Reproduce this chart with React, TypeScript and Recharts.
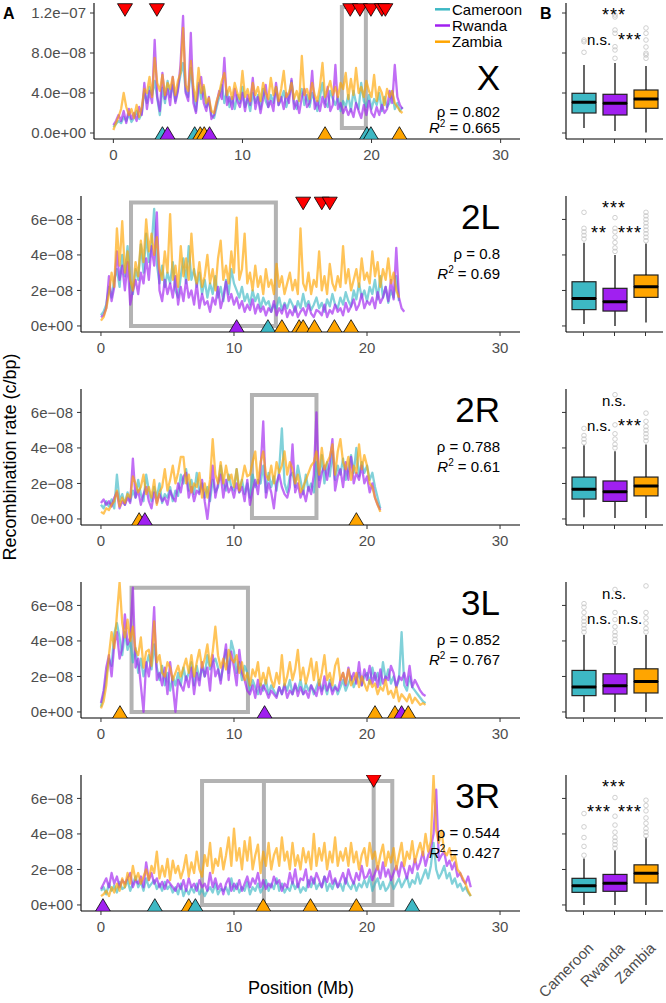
import React from "react";
import { ComposedChart, Line, XAxis, YAxis, Scatter, ReferenceArea, Bar } from "recharts";

const FONT = "'Liberation Sans', Arial, Helvetica, sans-serif";
const POPS = ["Cameroon", "Rwanda", "Zambia"];
const POP_COLORS = ["#3DB8C4", "#A020F0", "#FFA500"];
const STEP = 0.2; // Mb between windows
const UNIT = 1e-8;
const X_TICKS = [0, 10, 20, 30];

// ---------- X ----------
const X_CAM = [0.6,0.9,1.2,1.0,1.6,1.2,1.9,1.1,1.5,2.2,1.4,2.0,4.2,3.0,4.6,3.8,5.2,3.5,1.8,4.5,3.0,5.2,3.6,4.8,3.2,4.4,5.8,7.0,4.2,3.6,6.5,4.0,2.2,5.0,3.4,4.6,2.6,3.2,1.8,1.5,2.6,3.6,4.8,3.0,4.2,2.6,3.6,2.4,3.8,3.0,4.6,2.6,3.4,2.2,4.0,3.0,3.8,2.4,4.4,3.2,2.6,3.8,3.0,4.6,2.8,3.4,4.2,2.6,3.6,5.2,3.0,2.4,3.6,4.4,2.8,3.8,2.6,4.0,3.2,2.2,3.6,5.0,3.0,2.6,4.2,3.4,2.8,3.6,2.2,3.2,2.6,3.8,2.2,4.2,3.0,2.4,5.0,3.2,2.6,3.8,2.4,3.4,2.8,4.0,2.2,3.6,2.6,3.0,4.2,2.4,3.0,2.2,2.6];
const X_RWA = [0.8,1.2,1.8,1.2,2.2,1.0,2.4,1.4,2.0,1.2,2.6,1.8,5.0,2.4,4.2,3.0,9.3,3.6,2.2,6.0,3.4,4.4,2.8,5.6,3.0,4.2,6.8,11.7,4.0,3.2,10.0,3.0,2.0,4.6,5.6,3.0,2.2,3.6,1.4,1.8,3.0,4.2,3.4,7.5,2.8,3.6,2.4,4.4,3.2,2.6,4.0,2.2,3.8,2.8,5.5,2.4,3.6,2.0,3.4,4.8,2.6,3.2,2.2,5.0,2.8,3.6,2.4,4.0,3.0,5.4,2.4,3.2,2.0,3.6,4.4,2.6,3.0,6.2,2.4,3.2,2.2,3.6,2.6,4.6,2.2,2.8,6.8,2.4,3.0,2.0,2.6,1.8,2.4,1.6,3.0,2.2,1.5,2.8,1.8,3.2,2.0,1.6,2.6,1.8,2.8,2.0,2.4,4.2,3.0,6.8,3.6,2.8,2.4];
const X_ZAM = [0.3,1.0,1.6,2.4,4.0,2.6,1.8,2.4,1.5,2.8,1.6,2.6,4.4,4.0,5.6,3.6,7.5,5.0,4.2,5.8,3.8,5.0,4.4,5.6,3.8,5.2,6.0,10.5,4.8,4.2,7.2,4.6,3.2,6.5,4.0,4.8,3.0,3.5,2.2,2.0,3.2,4.0,5.2,6.0,3.8,4.6,3.4,5.0,4.0,3.4,6.2,3.6,4.4,3.2,5.0,3.8,4.6,3.2,5.0,4.0,3.4,5.5,3.8,4.6,3.2,4.4,6.2,3.6,4.0,5.0,3.4,4.2,3.2,7.7,3.8,4.4,3.4,5.0,3.8,3.2,4.6,7.0,3.6,4.4,5.2,3.8,4.6,3.6,5.0,4.4,6.0,3.4,5.4,3.8,6.5,4.0,4.6,3.6,5.2,4.2,3.6,5.8,3.2,4.6,4.0,2.8,4.4,3.6,4.2,3.0,2.6,2.2,2.0];
const X_Y_TICKS = [0, 4e-8, 8e-8, 1.2e-7];
const X_Y_LABELS = ["0.0e+00", "4.0e\u221208", "8.0e\u221208", "1.2e\u221207"];
const X_Y_DOMAIN = [-0.6e-8, 13.0e-8];
const X_INV = [[17.7, 19.56, 0.5, 12.6]];
const X_UP_CAM = [3.8, 6.3, 19.64, 19.95];
const X_UP_RWA = [4.2, 7.45];
const X_UP_ZAM = [6.73, 7.04, 16.4, 22.16];
const X_DOWN = [0.9, 3.37, 18.35, 19.1, 19.95, 20.8, 21.07];
const X_BOX = [[0.5, 2.0, 3.07, 3.97, 6.8], [0.2, 1.8, 2.97, 3.87, 7.0], [0.05, 2.47, 3.4, 4.3, 6.7]];
const X_OUT = [[8.07, 9.13, 9.3], [7.47, 8.3, 8.63, 9.97, 10.3, 11.6, 11.8], [7.47, 7.8, 7.97, 8.6, 9.3, 9.97, 10.5]];

// ---------- 2L ----------
const L2_CAM = [0.6,0.8,1.2,2.2,1.6,2.6,3.2,2.2,4.0,2.8,4.5,2.4,1.8,3.2,2.6,4.6,3.0,5.2,3.6,4.4,6.6,3.5,2.4,3.4,2.2,3.0,2.4,3.6,2.0,1.6,2.8,3.8,2.4,4.5,2.6,3.2,2.2,3.0,1.8,2.6,1.6,2.4,1.8,2.8,1.6,2.2,1.4,2.6,1.8,3.2,2.4,2.0,1.6,2.2,1.4,1.8,1.2,2.0,1.4,1.8,1.0,1.6,1.2,1.4,0.8,1.2,1.0,1.6,0.9,1.3,1.0,1.5,1.2,0.8,1.4,1.0,1.8,1.1,1.4,0.9,1.2,1.6,1.0,1.3,0.8,1.5,1.1,1.8,1.2,1.0,1.6,1.2,1.9,1.4,1.1,2.0,1.5,2.4,1.6,2.0,1.4,2.2,1.8,2.6,1.5,2.8,1.6,2.2,1.3,2.0,1.6,2.8,1.4];
const L2_RWA = [0.5,0.6,1.0,2.8,1.4,2.2,4.2,2.6,3.4,2.0,3.6,1.2,2.0,2.6,1.8,3.0,2.4,3.8,2.6,4.5,3.4,6.4,2.0,1.4,2.6,1.8,2.4,1.6,2.8,1.2,2.2,1.4,2.6,1.6,2.0,1.2,2.4,1.0,1.8,1.2,1.4,0.8,1.6,1.2,2.2,1.0,1.6,2.5,1.4,1.8,1.2,1.6,1.0,1.4,0.8,1.2,0.9,1.5,0.7,1.2,0.8,1.1,0.6,1.0,0.8,1.4,0.6,1.0,0.7,1.2,0.5,0.9,0.6,1.1,0.5,0.8,1.0,0.6,1.2,0.7,0.5,0.9,0.8,0.6,1.2,0.5,0.9,0.7,1.2,0.8,1.0,0.6,1.3,0.8,1.1,1.5,0.9,1.2,1.8,1.0,1.4,1.2,1.6,1.0,1.9,1.3,1.6,2.2,1.4,2.6,1.5,4.4,1.6,1.0,0.8];
const L2_ZAM = [0.3,0.5,1.0,1.8,3.0,2.2,5.5,3.4,5.9,3.0,4.2,2.6,2.0,3.6,2.8,4.8,3.6,6.0,4.2,5.2,4.0,5.0,3.2,2.6,4.2,3.0,6.3,2.6,3.4,2.2,4.5,2.8,3.8,2.6,5.2,3.0,2.4,3.6,2.2,2.8,4.0,2.4,3.2,2.0,3.8,4.8,2.6,3.4,2.4,4.2,3.0,6.1,2.6,3.2,5.2,2.4,3.0,2.0,3.4,2.2,2.8,1.8,3.2,2.2,2.6,1.8,3.5,2.2,2.8,1.8,2.4,3.0,2.0,2.6,1.8,5.5,2.4,2.0,3.0,1.8,2.6,2.2,4.2,2.0,2.8,1.8,3.5,2.4,2.0,2.8,2.2,4.5,2.4,3.2,2.0,2.6,3.2,2.2,3.8,2.6,3.0,2.4,4.2,2.8,3.6,2.2,3.2,2.6,3.8,2.4,3.0,2.0,1.6];
const A_Y_TICKS = [0, 2e-8, 4e-8, 6e-8];
const A_Y_LABELS = ["0e+00", "2e\u221208", "4e\u221208", "6e\u221208"];
const A_Y_DOMAIN = [-0.34e-8, 7.32e-8];
const L2_INV = [[2.26, 13.15, 0, 6.95]];
const L2_UP_CAM = [12.55];
const L2_UP_RWA = [10.2];
const L2_UP_ZAM = [13.6, 14.9, 15.2, 16.05, 17.55, 18.8];
const L2_DOWN = [15.2, 16.6, 17.2];
const L2_BOX = [[0.11, 0.92, 1.55, 2.49, 4.68], [0.0, 0.84, 1.37, 2.12, 3.99], [0.19, 1.61, 2.21, 2.87, 4.64]];
const L2_OUT = [[4.9, 5.1, 5.3, 5.5, 6.4], [4.2, 4.4, 4.7, 5.0, 5.3, 5.5, 6.1], [4.8, 5.0, 5.2, 5.4, 5.6, 5.8, 6.0, 6.2, 6.4]];

// ---------- 2R ----------
const R2_CAM = [0.8,0.6,1.0,0.7,1.1,0.6,2.5,1.0,1.4,0.8,1.5,1.0,1.6,1.2,2.2,1.4,1.0,2.5,1.6,1.0,1.8,1.2,2.0,0.9,1.4,1.2,1.8,1.0,1.6,1.3,2.5,2.0,2.8,1.6,2.2,1.4,2.6,1.5,2.0,1.2,1.8,1.0,2.2,1.5,1.8,3.0,2.0,1.6,2.5,1.8,1.6,2.8,1.5,2.2,1.4,2.0,1.2,2.5,1.8,2.2,2.0,3.0,1.5,2.6,1.8,2.4,1.6,2.8,5.1,2.0,1.5,2.4,2.6,1.8,3.0,2.2,1.4,2.5,1.6,2.0,1.5,3.2,2.2,3.6,2.0,3.2,2.4,3.8,2.2,3.0,2.5,3.4,2.2,2.8,3.6,2.6,4.0,2.4,3.2,2.6,3.0,2.2,2.6,1.8,1.2,0.6];
const R2_RWA = [0.9,1.1,0.8,1.0,0.7,1.2,1.5,0.6,1.0,0.8,1.2,0.9,3.4,1.2,1.6,0.8,1.4,1.8,1.0,0.6,1.5,0.9,1.4,1.0,1.2,0.8,1.6,1.2,1.0,2.0,1.5,2.4,2.6,1.2,1.8,1.0,1.6,1.4,2.2,1.0,0.0,1.4,3.0,1.2,2.0,2.5,1.2,2.2,1.5,1.8,1.2,2.0,1.5,1.8,1.0,2.2,0.8,1.6,2.2,1.4,2.8,5.5,1.2,2.0,1.5,0.6,2.0,2.5,1.8,1.4,1.2,1.8,4.2,1.5,2.0,1.2,1.6,1.0,1.8,1.4,2.5,6.0,1.8,2.6,3.0,2.2,3.2,4.5,1.6,2.4,2.8,1.8,3.2,2.2,3.5,2.0,2.6,2.2,3.0,2.0,2.4,1.5,2.0,1.2,0.8,0.5];
const R2_ZAM = [0.4,0.3,0.6,0.5,0.8,1.0,1.6,0.7,1.2,0.9,1.4,1.2,2.4,2.0,1.5,1.8,2.5,1.4,1.8,1.2,2.2,0.8,1.5,1.8,2.8,1.6,2.2,3.0,2.0,2.6,3.5,3.5,2.0,2.5,1.5,2.0,1.8,2.6,1.2,2.0,1.2,2.2,4.5,2.5,2.0,3.2,2.0,3.0,2.2,2.5,1.8,2.8,1.6,2.2,3.0,2.4,2.5,3.2,3.8,2.0,3.2,3.8,2.5,2.2,3.0,2.0,3.2,2.6,3.0,3.8,2.5,3.2,2.8,2.0,2.5,1.5,1.8,2.2,2.6,3.0,3.2,3.8,2.5,4.0,2.8,3.2,3.5,4.2,2.5,3.8,4.5,3.2,2.8,3.5,2.2,3.0,2.6,4.2,2.8,3.6,3.0,2.0,1.8,1.2,0.8,0.4];
const R2_INV = [[11.35, 16.2, 0.05, 6.98]];
const R2_UP_CAM: number[] = [];
const R2_UP_RWA = [3.3];
const R2_UP_ZAM = [2.87, 19.2];
const R2_DOWN: number[] = [];
const R2_BOX = [[0.1, 1.12, 1.68, 2.36, 4.15], [0.05, 0.99, 1.53, 2.14, 3.82], [0.05, 1.3, 1.86, 2.36, 4.19]];
const R2_OUT = [[4.3, 4.5, 4.7, 5.1], [4.0, 4.2, 4.5, 4.8, 5.3, 7.0], [4.4, 4.6, 4.8, 5.0, 5.2, 5.5, 5.96]];

// ---------- 3L ----------
const L3_CAM = [0.3,1.0,2.0,3.0,2.6,4.4,5.0,4.2,3.2,4.5,3.5,4.0,2.8,3.6,2.2,3.0,2.0,2.6,3.2,2.4,3.8,2.5,1.8,2.6,1.5,2.2,1.2,2.0,1.5,2.2,1.5,2.5,1.8,2.2,2.8,1.5,2.6,1.8,2.5,2.0,3.2,2.4,2.8,3.0,2.5,1.8,2.6,3.5,2.2,4.0,3.4,2.2,2.8,1.8,2.6,2.2,1.2,1.8,1.4,1.0,1.6,1.2,1.8,1.0,1.5,1.2,0.9,1.4,1.0,1.6,1.2,1.8,1.0,1.5,1.2,1.8,1.0,1.6,1.2,1.5,1.0,1.4,1.8,1.2,1.5,1.0,1.8,1.2,1.5,1.0,1.4,1.8,1.2,1.6,2.0,1.4,1.8,2.2,1.5,2.0,2.2,1.6,2.5,1.8,2.2,1.5,2.8,1.8,2.4,1.6,2.0,1.4,1.8,4.5,1.5,1.2,2.0,1.4,1.2,1.0,0.8,0.6,0.5];
const L3_RWA = [0.5,1.2,2.5,3.2,2.0,3.8,4.5,3.0,3.6,5.5,3.8,4.2,7.0,2.5,3.0,1.5,0.0,2.8,2.0,3.2,5.9,1.8,2.2,1.5,2.5,1.0,2.8,1.5,0.0,1.8,1.5,1.2,2.0,1.4,2.5,1.0,2.2,1.5,2.8,2.0,2.5,1.2,3.2,2.0,2.4,1.6,2.8,3.8,1.8,3.4,2.5,1.5,3.5,2.2,1.8,1.2,1.0,1.5,0.8,1.8,1.0,1.5,1.2,0.8,1.2,1.0,0.8,1.4,1.0,1.5,0.8,1.2,1.0,1.6,0.9,1.4,1.0,1.2,0.8,1.5,1.2,0.9,1.6,1.0,2.0,1.2,1.6,1.0,1.4,1.2,1.8,2.2,1.5,2.5,1.8,2.2,1.6,2.8,1.5,2.4,1.8,2.6,1.6,2.2,1.4,2.4,1.6,2.0,1.8,2.6,2.2,1.4,2.0,1.8,2.2,1.5,2.6,1.4,1.8,1.5,1.2,1.0,0.9];
const L3_ZAM = [0.2,0.6,1.5,3.2,4.5,3.6,5.5,7.3,5.0,4.2,5.2,4.0,4.8,3.5,3.2,4.2,2.5,3.4,3.5,2.6,5.1,2.8,3.2,2.2,2.0,2.8,2.5,1.8,2.2,2.6,2.0,2.5,3.0,2.2,3.2,2.0,2.8,3.5,2.5,3.0,3.8,2.6,3.4,4.8,3.2,2.5,3.0,2.4,3.5,3.0,2.8,3.2,2.2,2.8,1.8,2.2,1.5,2.4,2.0,2.8,1.5,2.2,1.6,2.5,1.8,1.4,2.2,1.6,3.2,1.5,2.0,2.8,1.8,2.4,3.5,1.8,2.5,1.6,2.2,3.0,1.8,2.8,1.5,2.2,3.2,1.8,2.2,1.5,2.6,3.0,1.8,2.2,1.6,2.4,1.5,1.8,2.2,1.4,2.0,1.6,1.2,1.8,1.4,1.6,1.0,1.4,1.2,1.8,1.0,1.2,0.8,1.4,0.6,1.0,0.8,0.6,1.0,0.5,0.8,0.6,0.4,0.5,0.4];
const L3_INV = [[2.3, 11.05, 0, 6.99]];
const L3_UP_CAM: number[] = [];
const L3_UP_RWA = [12.3, 22.6];
const L3_UP_ZAM = [1.43, 20.6, 22.1, 23.1];
const L3_DOWN: number[] = [];
const L3_BOX = [[0.0, 0.92, 1.41, 2.34, 4.34], [0.0, 1.01, 1.48, 2.15, 3.72], [0.0, 1.07, 1.71, 2.43, 4.34]];
const L3_OUT = [[4.5, 4.7, 4.9, 5.1, 5.3, 5.6, 5.9, 6.1], [3.9, 4.1, 4.3, 4.5, 4.8, 5.2, 5.6, 6.9], [4.5, 4.7, 5.0, 5.3, 5.6, 7.1]];

// ---------- 3R ----------
const R3_CAM = [0.8,1.0,0.6,1.2,0.8,1.1,0.7,1.3,0.9,1.0,1.4,0.8,1.2,1.6,1.0,1.3,0.8,1.5,1.0,1.2,1.4,0.9,1.2,0.8,1.3,0.9,1.1,0.7,1.0,0.6,1.2,0.5,0.9,0.6,1.0,0.7,1.2,0.6,0.9,0.5,0.8,1.0,0.7,1.2,0.6,0.9,0.8,1.0,0.6,1.5,0.8,1.2,0.7,1.0,0.8,1.3,0.6,1.0,0.8,1.2,0.7,1.0,1.4,0.8,1.2,0.9,1.5,0.8,1.2,0.7,1.0,0.8,1.3,0.9,1.2,0.7,1.0,0.8,1.4,1.0,1.5,0.9,1.2,1.0,1.6,0.8,1.2,0.9,1.4,1.0,1.2,0.8,1.5,1.1,0.9,1.3,0.8,1.2,1.0,1.4,1.0,1.6,0.8,1.2,1.5,0.9,1.3,0.8,1.0,1.4,0.9,1.2,1.5,1.0,1.3,1.6,1.0,1.4,1.2,1.8,1.2,1.6,2.0,1.5,2.2,3.5,2.0,1.5,1.8,2.2,1.5,1.8,1.2,1.5,1.0,1.2,0.8,1.0,0.7,0.5];
const R3_RWA = [0.9,1.2,1.5,1.0,1.8,1.2,1.6,1.0,1.4,1.2,1.5,1.8,1.0,1.4,1.2,1.6,1.0,2.4,1.4,1.8,1.2,1.5,1.0,1.3,0.9,1.4,1.2,1.0,0.8,1.2,0.9,1.4,0.8,1.5,1.0,1.2,0.8,1.4,1.0,1.2,0.8,1.8,1.0,1.5,0.9,1.2,0.6,1.2,1.5,0.8,1.2,0.9,1.4,0.8,1.2,1.6,1.0,1.5,1.2,1.8,1.0,1.4,0.9,1.2,1.0,1.6,1.2,1.4,0.8,1.2,1.0,1.8,1.2,2.0,1.0,1.5,1.4,2.0,1.0,1.6,1.2,1.8,1.4,1.0,1.6,1.3,1.9,1.2,1.5,1.0,1.4,1.8,1.2,2.0,1.5,1.2,1.8,1.4,2.2,1.5,1.6,2.0,1.4,1.8,2.2,1.5,2.4,1.6,2.0,1.4,1.8,2.2,1.6,2.4,2.0,1.5,2.2,1.8,2.6,2.0,2.4,3.0,2.2,2.8,3.2,4.0,6.5,2.5,2.8,3.0,2.2,2.5,2.0,2.4,1.6,1.8,1.4,1.2,1.6,1.0];
const R3_ZAM = [0.5,0.6,0.8,0.5,1.0,0.7,1.2,0.8,1.5,1.0,1.8,1.2,2.2,1.4,1.8,1.2,1.6,2.0,1.4,2.2,1.8,3.0,1.5,2.2,1.6,2.6,1.4,2.5,1.8,2.2,1.5,2.0,2.8,1.6,2.4,1.8,3.0,2.0,1.6,2.8,2.2,3.5,1.8,2.6,2.2,3.2,2.0,2.8,3.8,2.2,4.3,2.5,3.2,2.0,3.6,2.5,3.8,2.0,2.8,3.4,1.8,3.0,2.2,3.5,2.0,2.8,3.2,2.2,3.8,2.5,3.0,2.0,3.5,2.2,2.8,2.0,3.2,2.4,3.0,2.0,4.0,2.2,3.2,2.5,3.5,2.0,3.0,2.4,3.8,2.2,3.0,2.5,3.2,2.2,3.5,2.4,3.0,2.0,2.8,3.2,2.2,3.5,2.6,3.0,2.0,2.8,3.4,2.2,3.0,2.4,3.2,2.0,2.8,3.5,2.2,3.0,2.6,3.6,2.4,3.0,3.5,2.8,4.0,3.0,3.6,7.3,4.2,3.5,4.2,3.0,2.8,3.2,2.5,2.8,2.0,1.8,1.5,1.2,0.8,0.5];
const R3_INV = [[7.6, 20.5, 0, 6.98], [12.25, 21.9, 0, 6.98]];
const R3_UP_CAM = [4.05, 7.1, 23.4];
const R3_UP_RWA = [0.15];
const R3_UP_ZAM = [6.6, 12.2, 15.75, 19.2];
const R3_DOWN = [20.5];
const R3_BOX = [[0.0, 0.71, 1.08, 1.5, 2.62], [0.0, 0.77, 1.22, 1.72, 3.09], [0.0, 1.24, 1.78, 2.26, 3.8]];
const R3_OUT = [[2.8, 3.3, 3.8, 4.4, 5.15], [3.2, 3.4, 3.6, 3.8, 4.1, 4.5, 5.0, 6.05], [3.9, 4.1, 4.3, 4.6, 4.9, 5.3, 5.6, 5.9]];

const CHROM_NAMES = ["X", "2L", "2R", "3L", "3R"];
const RHO = ["0.802", "0.8", "0.788", "0.852", "0.544"];
const R2 = ["0.665", "0.69", "0.61", "0.767", "0.427"];
const DOWN_Y = [12.3, 6.9, 6.9, 6.9, 6.98];
const SIG_TOP = ["***", "***", "n.s.", "n.s.", "***"];
const SIG_LEFT = ["n.s.", "**", "n.s.", "n.s.", "***"];
const SIG_RIGHT = ["***", "***", "***", "n.s.", "***"];

const CHROMS = [
  { cam: X_CAM, rwa: X_RWA, zam: X_ZAM, yTicks: X_Y_TICKS, yLabels: X_Y_LABELS, yDomain: X_Y_DOMAIN, inv: X_INV, up: [X_UP_CAM, X_UP_RWA, X_UP_ZAM], down: X_DOWN, box: X_BOX, out: X_OUT },
  { cam: L2_CAM, rwa: L2_RWA, zam: L2_ZAM, yTicks: A_Y_TICKS, yLabels: A_Y_LABELS, yDomain: A_Y_DOMAIN, inv: L2_INV, up: [L2_UP_CAM, L2_UP_RWA, L2_UP_ZAM], down: L2_DOWN, box: L2_BOX, out: L2_OUT },
  { cam: R2_CAM, rwa: R2_RWA, zam: R2_ZAM, yTicks: A_Y_TICKS, yLabels: A_Y_LABELS, yDomain: A_Y_DOMAIN, inv: R2_INV, up: [R2_UP_CAM, R2_UP_RWA, R2_UP_ZAM], down: R2_DOWN, box: R2_BOX, out: R2_OUT },
  { cam: L3_CAM, rwa: L3_RWA, zam: L3_ZAM, yTicks: A_Y_TICKS, yLabels: A_Y_LABELS, yDomain: A_Y_DOMAIN, inv: L3_INV, up: [L3_UP_CAM, L3_UP_RWA, L3_UP_ZAM], down: L3_DOWN, box: L3_BOX, out: L3_OUT },
  { cam: R3_CAM, rwa: R3_RWA, zam: R3_ZAM, yTicks: A_Y_TICKS, yLabels: A_Y_LABELS, yDomain: A_Y_DOMAIN, inv: R3_INV, up: [R3_UP_CAM, R3_UP_RWA, R3_UP_ZAM], down: R3_DOWN, box: R3_BOX, out: R3_OUT },
];

// layout
const PANEL_TOPS = [3, 196, 389, 582, 775];
const PLOT_H = 136;

function buildRows(c: number[], r: number[], z: number[]) {
  const n = Math.max(c.length, r.length, z.length);
  const rows: any[] = [];
  for (let i = 0; i < n; i++) {
    rows.push({
      pos: Math.round(i * STEP * 10) / 10,
      Cameroon: c[i] != null ? c[i] * UNIT : null,
      Rwanda: r[i] != null ? r[i] * UNIT : null,
      Zambia: z[i] != null ? z[i] * UNIT : null,
    });
  }
  return rows;
}

const UpTri = (p: any) => {
  const { cx, cy, payload } = p;
  const col = POP_COLORS[payload.pop];
  return (
    <polygon
      points={`${cx - 7.5},${cy + 6.3} ${cx + 7.5},${cy + 6.3} ${cx},${cy - 6.3}`}
      fill={col}
      stroke="#000"
      strokeWidth={0.8}
    />
  );
};

const DownTri = (p: any) => {
  const { cx, cy } = p;
  return (
    <polygon
      points={`${cx - 7.5},${cy - 6.3} ${cx + 7.5},${cy - 6.3} ${cx},${cy + 6.3}`}
      fill="#FF0000"
      stroke="#000"
      strokeWidth={0.8}
    />
  );
};

function LinePanel({ idx }: { idx: number }) {
  const c = CHROMS[idx];
  const rows = buildRows(c.cam, c.rwa, c.zam);
  const marks: any[] = [];
  c.up.forEach((arr, pi) => arr.forEach((pos) => marks.push({ pos, y: 0, pop: pi })));
  marks.sort((a, b) => a.pos - b.pos);
  const downs = c.down.map((pos) => ({ pos, y: DOWN_Y[idx] * UNIT }));
  const yw = idx === 0 ? 94 : 81;
  const fmt = (v: number) => {
    const k = c.yTicks.findIndex((t) => Math.abs(t - v) < 1e-12);
    return k >= 0 ? c.yLabels[k] : "";
  };
  return (
    <div style={{ position: "absolute", left: 0, top: PANEL_TOPS[idx] }}>
      <ComposedChart width={520} height={PLOT_H + 30} data={rows} margin={{ top: 0, right: 0, bottom: 0, left: 0 }}>
        <XAxis
          dataKey="pos"
          type="number"
          domain={[-1.5, 31.5]}
          ticks={X_TICKS}
          allowDataOverflow
          tickSize={4}
          tickMargin={6}
          height={30}
          axisLine={{ stroke: "#000", strokeWidth: 1.1 }}
          tickLine={{ stroke: "#333" }}
          tick={{ fill: "#4D4D4D", fontSize: 15, fontFamily: FONT }}
        />
        <YAxis
          type="number"
          domain={c.yDomain}
          ticks={c.yTicks}
          allowDataOverflow
          width={yw}
          tickSize={4}
          tickMargin={4}
          tickFormatter={fmt}
          axisLine={{ stroke: "#000", strokeWidth: 1.1 }}
          tickLine={{ stroke: "#333" }}
          tick={{ fill: "#4D4D4D", fontSize: 15, fontFamily: FONT }}
        />
        {c.inv.map((r, k) => (
          <ReferenceArea
            key={k}
            x1={r[0]}
            x2={r[1]}
            y1={r[2] * UNIT}
            y2={r[3] * UNIT}
            fill="none"
            fillOpacity={0}
            stroke="#B3B3B3"
            strokeWidth={4}
            ifOverflow="visible"
          />
        ))}
        {POPS.map((p, i) => (
          <Line
            key={p}
            dataKey={p}
            type="linear"
            stroke={POP_COLORS[i]}
            strokeOpacity={0.65}
            strokeWidth={2.3}
            strokeLinejoin="round"
            dot={false}
            activeDot={false}
            isAnimationActive={false}
          />
        ))}
        <Scatter data={marks} dataKey="y" shape={UpTri} isAnimationActive={false} />
        {downs.length > 0 && <Scatter data={downs} dataKey="y" shape={DownTri} isAnimationActive={false} />}
      </ComposedChart>
    </div>
  );
}

const EmptyShape = () => <g />;
const WhiskerLow = (p: any) => (
  <line x1={p.x + p.width / 2} x2={p.x + p.width / 2} y1={p.y} y2={p.y + p.height} stroke="#000" strokeWidth={1.2} />
);
const BoxLow = (p: any) => (
  <rect x={p.x} y={p.y} width={p.width} height={p.height} fill={p.payload.color} stroke="#222" strokeWidth={1.2} />
);
const BoxHigh = (p: any) => (
  <g>
    <rect x={p.x} y={p.y} width={p.width} height={p.height} fill={p.payload.color} stroke="#222" strokeWidth={1.2} />
    <line x1={p.x} x2={p.x + p.width} y1={p.y + p.height} y2={p.y + p.height} stroke="#000" strokeWidth={3} />
  </g>
);
const WhiskerHigh = (p: any) => {
  const pl = p.payload;
  const span = pl.max - pl.q3;
  const ppu = span > 0 ? p.height / span : 0;
  const cx = p.x + p.width / 2;
  return (
    <g>
      <line x1={cx} x2={cx} y1={p.y} y2={p.y + p.height} stroke="#000" strokeWidth={1.2} />
      {pl.outliers.map((o: number, k: number) => (
        <circle key={k} cx={cx} cy={p.y - (o - pl.max) * ppu} r={2.3} fill="none" stroke="#C4C4C4" strokeWidth={0.8} />
      ))}
    </g>
  );
};

const RotTick = (p: any) => {
  const { x, y, payload } = p;
  return (
    <text
      transform={`translate(${x + 11},${y + 32}) rotate(-45)`}
      textAnchor="end"
      fontSize={15}
      fill="#4D4D4D"
      fontFamily={FONT}
    >
      {payload.value}
    </text>
  );
};
const NoTick = () => <g />;

const BOX_LEFT = 480;
const BOX_MARGIN_LEFT = 76;

function BoxPanel({ idx }: { idx: number }) {
  const c = CHROMS[idx];
  const last = idx === CHROMS.length - 1;
  const rows = POPS.map((p, i) => {
    const [mn, q1, md, q3, mx] = c.box[i];
    return {
      name: p,
      color: POP_COLORS[i],
      base: mn * UNIT,
      w1: (q1 - mn) * UNIT,
      b1: (md - q1) * UNIT,
      b2: (q3 - md) * UNIT,
      w2: (mx - q3) * UNIT,
      max: mx,
      q3,
      outliers: c.out[i],
    };
  });
  const xh = last ? 92 : 12;
  return (
    <div style={{ position: "absolute", left: BOX_LEFT, top: PANEL_TOPS[idx] }}>
      <ComposedChart width={663 - BOX_LEFT} height={PLOT_H + xh} data={rows} margin={{ top: 0, right: 0, bottom: 0, left: BOX_MARGIN_LEFT }}>
        <XAxis
          dataKey="name"
          type="category"
          padding={{ left: 2, right: 2 }}
          interval={0}
          tickSize={4}
          height={xh}
          axisLine={{ stroke: "#000", strokeWidth: 1.1 }}
          tickLine={{ stroke: "#333" }}
          tick={last ? RotTick : NoTick}
        />
        <YAxis
          type="number"
          domain={c.yDomain}
          ticks={c.yTicks}
          allowDataOverflow
          width={10}
          tickSize={4}
          tickMargin={0}
          tickFormatter={() => ""}
          axisLine={{ stroke: "#000", strokeWidth: 1.1 }}
          tickLine={{ stroke: "#333" }}
        />
        <Bar dataKey="base" stackId="b" barSize={24} shape={EmptyShape} isAnimationActive={false} />
        <Bar dataKey="w1" stackId="b" barSize={24} shape={WhiskerLow} isAnimationActive={false} />
        <Bar dataKey="b1" stackId="b" barSize={24} shape={BoxLow} isAnimationActive={false} />
        <Bar dataKey="b2" stackId="b" barSize={24} shape={BoxHigh} isAnimationActive={false} />
        <Bar dataKey="w2" stackId="b" barSize={24} shape={WhiskerHigh} isAnimationActive={false} />
      </ComposedChart>
    </div>
  );
}

export default function App() {
  return (
    <div style={{ position: "absolute", left: 0, top: 0, width: 666, height: 1003, background: "#fff", fontFamily: FONT }}>
      {CHROMS.map((_, i) => (
        <LinePanel key={"l" + i} idx={i} />
      ))}
      {CHROMS.map((_, i) => (
        <BoxPanel key={"b" + i} idx={i} />
      ))}
      <svg width={666} height={1003} style={{ position: "absolute", left: 0, top: 0, pointerEvents: "none" }} fontFamily={FONT}>
        <text x={3} y={19} fontSize={16} fontWeight="bold">A</text>
        <text x={540} y={19} fontSize={16} fontWeight="bold">B</text>
        {POPS.map((p, i) => (
          <g key={p}>
            <line x1={435} x2={450} y1={9.3 + i * 16.2} y2={9.3 + i * 16.2} stroke={POP_COLORS[i]} strokeWidth={2.5} />
            <text x={452} y={14.8 + i * 16.2} fontSize={15} fill="#000">{p}</text>
          </g>
        ))}
        {CHROM_NAMES.map((nm, i) => {
          const t = PANEL_TOPS[i];
          const big = i === 0 ? 87 : 33;
          const rho = i === 0 ? 114 : 63;
          const r2 = i === 0 ? 130 : 83;
          const star = (s: string) => s.startsWith("*");
          return (
            <g key={nm}>
              <text x={500} y={t + big} textAnchor="end" fontSize={35} fill="#000">{nm}</text>
              <text x={500} y={t + rho} textAnchor="end" fontSize={15} fill="#000">{"\u03c1 = " + RHO[i]}</text>
              <text x={500} y={t + r2} textAnchor="end" fontSize={15} fill="#000">
                <tspan fontStyle="italic">R</tspan>
                <tspan fontSize={10} dy={-6}>2</tspan>
                <tspan dy={6}>{" = " + R2[i]}</tspan>
              </text>
              <text x={614} y={t + (star(SIG_TOP[i]) ? 18 : 17)} textAnchor="middle" fontSize={star(SIG_TOP[i]) ? 18 : 15} letterSpacing={star(SIG_TOP[i]) ? 1 : 0}>{SIG_TOP[i]}</text>
              <text x={599} y={t + (star(SIG_LEFT[i]) ? 43 : 42)} textAnchor="middle" fontSize={star(SIG_LEFT[i]) ? 18 : 15} letterSpacing={star(SIG_LEFT[i]) ? 1 : 0}>{SIG_LEFT[i]}</text>
              <text x={630} y={t + (star(SIG_RIGHT[i]) ? 43 : 42)} textAnchor="middle" fontSize={star(SIG_RIGHT[i]) ? 18 : 15} letterSpacing={star(SIG_RIGHT[i]) ? 1 : 0}>{SIG_RIGHT[i]}</text>
            </g>
          );
        })}
        <text transform="translate(16,457) rotate(-90)" textAnchor="middle" fontSize={18} fill="#000">Recombination rate (c/bp)</text>
        <text x={301} y={994} textAnchor="middle" fontSize={18} fill="#000">Position (Mb)</text>
      </svg>
    </div>
  );
}
